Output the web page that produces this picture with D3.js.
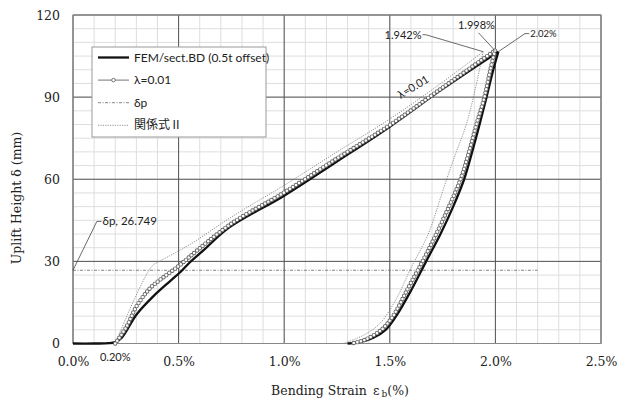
<!DOCTYPE html>
<html>
<head>
<meta charset="utf-8">
<script src="https://cdn.jsdelivr.net/npm/d3@7"></script>
<style>
  body { margin: 0; background: #fff; }
  .serif { font-family: 'DejaVu Serif', serif; fill: #222; }
  .sans { font-family: Lato, 'Noto Sans CJK JP', sans-serif; fill: #222; }
</style>
</head>
<body>
<div id="chart-area"></div>
<script>
// axis ticks
const xTicks = [0, 0.5, 1.0, 1.5, 2.0, 2.5]
const yTicks = [0, 30, 60, 90, 120]

// FEM/sect.BD (0.5t offset) : [strain %, uplift mm]
const femLoad = [[0, 0], [0.1, 0], [0.17, 0.1], [0.2, 0.5], [0.23, 2], [0.3, 10.5], [0.38, 17.2],
  [0.46, 22.8], [0.51, 26.2], [0.55, 29.4], [0.62, 34.2], [0.74, 42.4], [1.0, 54], [1.25, 66.5], [1.5, 79.2],
  [1.75, 93], [2.014, 106.6]]
const femUnload = [[2.014, 106.6], [1.99, 100], [1.958, 90], [1.925, 80], [1.89, 70], [1.852, 60],
  [1.80, 50], [1.74, 40], [1.672, 30], [1.605, 20], [1.53, 10], [1.48, 5], [1.42, 2], [1.35, 0.4], [1.30, 0]]

// λ=0.01
const lamLoad = [[0.2, 0], [0.254, 6.2], [0.3, 13.5], [0.365, 20.2], [0.444, 25.1], [0.507, 28.7],
  [0.554, 31.8], [0.75, 43.8], [1.0, 55.2], [1.25, 67.6], [1.5, 79.8], [1.75, 93.5], [1.998, 107]]
const lamUnload = [[1.998, 107], [1.976, 100], [1.948, 90], [1.91, 80], [1.875, 70], [1.835, 60],
  [1.78, 50], [1.72, 40], [1.655, 30], [1.585, 20], [1.515, 10], [1.46, 5], [1.383, 1.4], [1.32, 0]]

// δp
const deltaP = 26.749
const deltaPEnd = 2.2

// 関係式Ⅱ
const relLoad = [[0.2, 0], [0.372, 28.1], [0.41, 30], [0.55, 36], [0.75, 46.2], [1.0, 57.8],
  [1.25, 70], [1.5, 82], [1.75, 95.5], [1.942, 106.6]]
const relUnload = [[1.942, 106.6], [1.905, 93], [1.862, 80], [1.815, 70], [1.769, 60], [1.69, 41.5],
  [1.67, 37.9], [1.596, 26.9], [1.533, 16.6], [1.454, 7.4], [1.38, 3.2], [1.28, 0]]

// peak labels
const peakLabels = ['1.942%', '1.998%', '2.02%']

const MARGIN = { LEFT: 73, RIGHT: 16, TOP: 15, BOTTOM: 54.5 }
const WIDTH = 617 - MARGIN.LEFT - MARGIN.RIGHT
const HEIGHT = 398 - MARGIN.TOP - MARGIN.BOTTOM

const svg = d3.select('#chart-area').append('svg')
  .attr('width', 617)
  .attr('height', 398)

const g = svg.append('g')
  .attr('transform', `translate(${MARGIN.LEFT}, ${MARGIN.TOP})`)

const x = d3.scaleLinear().domain([0, 2.5]).range([0, WIDTH])
const y = d3.scaleLinear().domain([0, 120]).range([HEIGHT, 0])

// minor grid
g.append('g').selectAll('line').data(x.ticks(25)).enter().append('line')
  .attr('x1', d => x(d)).attr('x2', d => x(d))
  .attr('y1', 0).attr('y2', HEIGHT)
  .attr('stroke', '#dedede').attr('stroke-width', 1)
g.append('g').selectAll('line').data(y.ticks(20)).enter().append('line')
  .attr('y1', d => y(d)).attr('y2', d => y(d))
  .attr('x1', 0).attr('x2', WIDTH)
  .attr('stroke', '#dedede').attr('stroke-width', 1)

// major grid
g.append('g').selectAll('line').data(xTicks).enter().append('line')
  .attr('x1', d => x(d)).attr('x2', d => x(d))
  .attr('y1', 0).attr('y2', HEIGHT)
  .attr('stroke', '#555').attr('stroke-width', 1)
g.append('g').selectAll('line').data(yTicks).enter().append('line')
  .attr('y1', d => y(d)).attr('y2', d => y(d))
  .attr('x1', 0).attr('x2', WIDTH)
  .attr('stroke', '#555').attr('stroke-width', 1)

g.append('rect')
  .attr('width', WIDTH).attr('height', HEIGHT)
  .attr('fill', 'none').attr('stroke', '#888')

// axes
const xAxis = g.append('g')
  .attr('transform', `translate(0, ${HEIGHT})`)
  .call(d3.axisBottom(x).tickValues(xTicks).tickFormat(d => d.toFixed(1) + '%').tickSize(0).tickPadding(14))
const yAxis = g.append('g')
  .call(d3.axisLeft(y).tickValues(yTicks).tickSize(0).tickPadding(13))
;[xAxis, yAxis].forEach(a => {
  a.select('.domain').remove()
  a.selectAll('text').attr('class', 'serif').attr('font-size', '12.5px')
})

// axis titles
const xt = g.append('text')
  .attr('class', 'serif')
  .attr('x', WIDTH / 2 + 3)
  .attr('y', HEIGHT + 51)
  .attr('font-size', '12.5px')
  .attr('text-anchor', 'middle')
xt.append('tspan').text('Bending Strain\u2002ε')
xt.append('tspan').attr('font-size', '9px').attr('dy', 2).attr('dx', 2).text('b')
xt.append('tspan').attr('dy', -2).text('(%)')

g.append('text')
  .attr('class', 'serif')
  .attr('transform', 'rotate(-90)')
  .attr('x', -183)
  .attr('y', -52)
  .attr('font-size', '12.5px')
  .attr('text-anchor', 'middle')
  .text('Uplift Height  δ (mm)')

const line = d3.line()
  .x(d => x(d[0]))
  .y(d => y(d[1]))
  .curve(d3.curveCatmullRom.alpha(0.5))

// δp line
g.append('path')
  .attr('d', line([[0, deltaP], [deltaPEnd, deltaP]]))
  .attr('fill', 'none').attr('stroke', '#666').attr('stroke-width', 0.8)
  .attr('stroke-dasharray', '3 1.5 1 1.5')

// 関係式Ⅱ
;[relLoad, relUnload].forEach(s => {
  g.append('path').attr('d', line(s))
    .attr('fill', 'none').attr('stroke', '#777').attr('stroke-width', 0.8)
    .attr('stroke-dasharray', '1.2 1.2')
})

// FEM
;[femLoad, femUnload].forEach(s => {
  g.append('path').attr('d', line(s))
    .attr('fill', 'none').attr('stroke', '#111').attr('stroke-width', 2.3)
})

// λ=0.01 : thin line with hollow circle markers
;[lamLoad, lamUnload].forEach(s => {
  g.append('path').attr('d', line(s))
    .attr('fill', 'none').attr('stroke', '#666').attr('stroke-width', 4.4)
    .attr('stroke-linecap', 'round').attr('stroke-dasharray', '0 3.6')
  g.append('path').attr('d', line(s))
    .attr('fill', 'none').attr('stroke', '#fff').attr('stroke-width', 2.6)
    .attr('stroke-linecap', 'round').attr('stroke-dasharray', '0 3.6')
})

// annotations
const ann = g.append('g').attr('stroke', '#444').attr('stroke-width', 0.8).attr('fill', 'none')
const lead = (pts) => ann.append('polyline').attr('points', pts.map(p => p.join(',')).join(' '))

lead([[x(0), y(deltaP)], [x(0.113), y(44.6)], [x(0.135), y(44.6)]])
g.append('text').attr('class', 'sans').attr('font-size', '11.5px')
  .attr('x', x(0.14)).attr('y', y(44.6) + 4).text('δp, ' + deltaP)

lead([[x(1.942), y(106.6)], [x(1.67), y(112.8)], [x(1.655), y(112.8)]])
g.append('text').attr('class', 'sans').attr('font-size', '11px')
  .attr('x', x(1.65)).attr('y', y(112.8) + 4).attr('text-anchor', 'end').text(peakLabels[0])

lead([[x(1.998), y(107)], [x(1.92), y(113.5)]])
g.append('text').attr('class', 'sans').attr('font-size', '11px')
  .attr('x', x(1.91)).attr('y', y(116.2) + 4).attr('text-anchor', 'middle').text(peakLabels[1])

lead([[x(2.014), y(106.6)], [x(2.14), y(113.2)], [x(2.16), y(113.2)]])
g.append('text').attr('class', 'sans').attr('font-size', '9.5px')
  .attr('x', x(2.165)).attr('y', y(113.2) + 3.5).text(peakLabels[2])

g.append('text').attr('class', 'sans').attr('font-size', '11px')
  .attr('transform', `translate(${x(1.62)}, ${y(92.5)}) rotate(-31)`)
  .attr('text-anchor', 'middle').text('λ=0.01')

g.append('text').attr('class', 'sans').attr('font-size', '11px')
  .attr('x', x(0.2)).attr('y', HEIGHT + 17).attr('text-anchor', 'middle').text('0.20%')

// legend
const legend = svg.append('g').attr('transform', 'translate(92, 47)')
legend.append('rect')
  .attr('width', 174).attr('height', 90)
  .attr('fill', '#fff').attr('stroke', '#999')

const legendItems = ['FEM/sect.BD (0.5t offset)', 'λ=0.01', 'δp', '関係式Ⅱ']
const rows = legend.selectAll('g.item').data(legendItems).enter().append('g')
  .attr('class', 'item')
  .attr('transform', (d, i) => `translate(6, ${10.5 + i * 22.6})`)
rows.append('line')
  .attr('x1', 0).attr('x2', 31)
  .attr('stroke', (d, i) => ['#111', '#666', '#666', '#777'][i])
  .attr('stroke-width', (d, i) => [2.3, 0.9, 0.8, 0.8][i])
  .attr('stroke-dasharray', (d, i) => [null, null, '3 1.5 1 1.5', '1.2 1.2'][i])
rows.filter((d, i) => i === 1).append('circle')
  .attr('cx', 15.5).attr('r', 1.8)
  .attr('fill', '#fff').attr('stroke', '#666').attr('stroke-width', 0.9)
rows.append('text')
  .attr('class', 'sans')
  .attr('x', 36).attr('y', 4)
  .attr('font-size', '12px')
  .text(d => d)
</script>
</body>
</html>
